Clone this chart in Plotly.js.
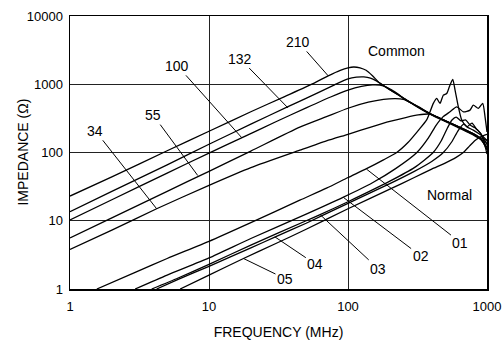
<!DOCTYPE html>
<html><head><meta charset="utf-8">
<script src="https://cdn.plot.ly/plotly-3.0.1.min.js"></script>
<style>html,body{margin:0;padding:0;background:#fff}</style>
</head><body><div id="chart" style="width:503px;height:340px"></div>
<script>
// Common mode curves
const f210 = [1, 2, 5, 10, 20, 35, 56, 72, 88, 100, 110, 122, 135, 150, 170, 200, 243, 300, 389, 500, 600, 700, 800, 900, 960, 1000];
const z210 = [23, 44, 106, 205, 395, 660, 1020, 1330, 1600, 1740, 1790, 1740, 1600, 1330, 1030, 830, 654, 500, 370, 290, 245, 210, 185, 160, 130, 95];
const f132 = [1, 2, 5, 10, 20, 37, 60, 80, 100, 115, 130, 145, 160, 175, 200, 243, 300, 389, 500, 600, 700, 800, 900, 1000];
const z132 = [13.6, 27, 66, 132, 260, 470, 740, 980, 1200, 1270, 1280, 1230, 1120, 1000, 835, 650, 495, 365, 285, 240, 205, 180, 155, 120];
const f100 = [1, 2, 5, 10, 17, 30, 50, 75, 100, 125, 150, 170, 190, 220, 260, 300, 389, 500, 600, 700, 800, 900, 1000];
const z100 = [10.3, 20.3, 50, 98, 162, 280, 450, 650, 820, 930, 980, 970, 900, 760, 590, 500, 372, 292, 246, 212, 186, 158, 140];
const f55 = [1, 2, 5, 10, 20, 45, 70, 100, 140, 180, 220, 250, 280, 320, 389, 500, 600, 700, 800, 900, 1000];
const z55 = [5.6, 11, 27, 53, 105, 235, 335, 445, 545, 600, 615, 600, 545, 470, 372, 292, 247, 215, 188, 165, 150];
const f34 = [1, 2, 4.2, 10, 20, 45, 70, 100, 150, 200, 260, 320, 389, 440, 500, 600, 700, 800, 900, 1000];
const z34 = [3.8, 7.3, 15, 33, 60, 108, 148, 185, 240, 285, 325, 355, 365, 330, 293, 248, 214, 188, 160, 110];
// Normal mode curves
const f01 = [1.56, 3, 5, 10, 20, 45, 70, 100, 136, 180, 224, 270, 320, 368, 411, 435, 459, 485, 513, 536, 567, 589, 622, 658, 714, 797, 870, 940, 1000];
const z01 = [1, 1.78, 2.8, 5.0, 9.4, 20, 30, 43, 58, 78, 100, 140, 210, 300, 524, 620, 524, 693, 733, 916, 1176, 820, 467, 299, 238, 213, 190, 170, 150];
const f02 = [2.94, 5, 10, 20, 50, 92, 150, 220, 313, 380, 430, 480, 542, 605, 676, 755, 797, 867, 931, 968, 1000];
const z02 = [1, 1.6, 2.85, 5.5, 12.5, 22, 36, 58, 100, 165, 250, 330, 395, 467, 395, 418, 494, 443, 524, 333, 200];
const f03 = [3.87, 6, 10, 20, 50, 63, 100, 200, 300, 410, 470, 520, 560, 600, 650, 700, 760, 820, 900, 1000];
const z03 = [1, 1.45, 2.3, 4.4, 10, 12.3, 19, 38, 60, 100, 150, 230, 300, 330, 290, 300, 250, 230, 190, 130];
const f04 = [4.2, 6, 10, 20, 30, 50, 100, 200, 300, 400, 485, 560, 620, 680, 720, 780, 840, 900, 1000];
const z04 = [1, 1.38, 2.15, 4.0, 5.8, 9.2, 18, 35, 53, 74, 100, 145, 210, 260, 240, 270, 220, 190, 110];
const f05 = [6.2, 10, 17.7, 30, 50, 100, 200, 300, 400, 500, 600, 675, 750, 820, 900, 1000];
const z05 = [1, 1.6, 2.8, 4.6, 7.5, 15, 29, 43, 57, 70, 85, 100, 125, 150, 170, 185];

const xTicks = [1, 10, 100, 1000];
const xTickText = ["1", "10", "100", "1000"];
const yTicks = [1, 10, 100, 1000, 10000];
const yTickText = ["1", "10", "100", "1000", "10000"];

const seriesNames = ["210", "132", "100", "55", "34", "01", "02", "03", "04", "05"];
const seriesX = [f210, f132, f100, f55, f34, f01, f02, f03, f04, f05];
const seriesY = [z210, z132, z100, z55, z34, z01, z02, z03, z04, z05];

const traces = seriesNames.map((n, i) => ({
  type: "scatter", mode: "lines", name: n,
  x: seriesX[i], y: seriesY[i],
  line: {color: "#000", width: 1.3, shape: "spline", smoothing: 0.6},
  hoverinfo: "skip"
}));

const FONT = "Arial, 'Liberation Sans', Helvetica, sans-serif";
const L = Math.log10;
function ptr(text, fx, zy, tfx, tzy) {
  return {text: text, x: L(fx), y: L(zy), xref: "x", yref: "y",
    ax: L(tfx), ay: L(tzy), axref: "x", ayref: "y",
    showarrow: true, arrowhead: 0, arrowwidth: 1, arrowcolor: "#000",
    font: {size: 14, family: FONT, color: "#000"}};
}
const annotations = [
  ptr("210", 72, 1330, 43.9, 4170),
  ptr("132", 37, 450, 16.7, 2380),
  ptr("100", 17.2, 165, 5.93, 1860),
  ptr("55", 8.3, 46, 3.97, 353),
  ptr("34", 4.2, 15, 1.52, 208),
  ptr("01", 136, 57, 644, 4.8),
  ptr("02", 92.6, 22, 333, 3.07),
  ptr("03", 63, 12.3, 165, 1.98),
  ptr("04", 29.8, 5.8, 58.2, 2.32),
  ptr("05", 17.7, 2.8, 35.2, 1.42),
  {text: "Common", x: L(224), y: L(3080), xref: "x", yref: "y", showarrow: false,
   font: {size: 14, family: FONT, color: "#000"}},
  {text: "Normal", x: L(535), y: L(23.9), xref: "x", yref: "y", showarrow: false,
   font: {size: 14, family: FONT, color: "#000"}},
  {text: "IMPEDANCE (Ω)", xref: "paper", yref: "paper", x: -0.115, y: 0.5,
   textangle: -90, showarrow: false, xanchor: "center", yanchor: "middle",
   font: {size: 14, family: FONT, color: "#000"}}
];

const layout = {
  width: 503, height: 340,
  margin: {l: 70, r: 16, t: 16, b: 51, pad: 0},
  paper_bgcolor: "#fff", plot_bgcolor: "#fff",
  showlegend: false,
  font: {family: FONT, color: "#000", size: 13},
  xaxis: {type: "log", range: [0, 3], tickvals: xTicks, ticktext: xTickText,
    showgrid: true, gridcolor: "#222", gridwidth: 1, zeroline: false,
    showline: true, mirror: true, linecolor: "#000", linewidth: 1.5,
    ticks: "", ticklabelstandoff: 5, tickfont: {size: 13},
    title: {text: "FREQUENCY (MHz)", font: {size: 14}, standoff: 16}},
  yaxis: {type: "log", range: [0, 4], tickvals: yTicks, ticktext: yTickText,
    showgrid: true, gridcolor: "#222", gridwidth: 1, zeroline: false,
    showline: true, mirror: true, linecolor: "#000", linewidth: 1.5,
    ticks: "", ticklabelstandoff: 3, tickfont: {size: 13}},
  annotations: annotations
};
Plotly.newPlot("chart", traces, layout, {staticPlot: true, displayModeBar: false});
</script></body></html>
